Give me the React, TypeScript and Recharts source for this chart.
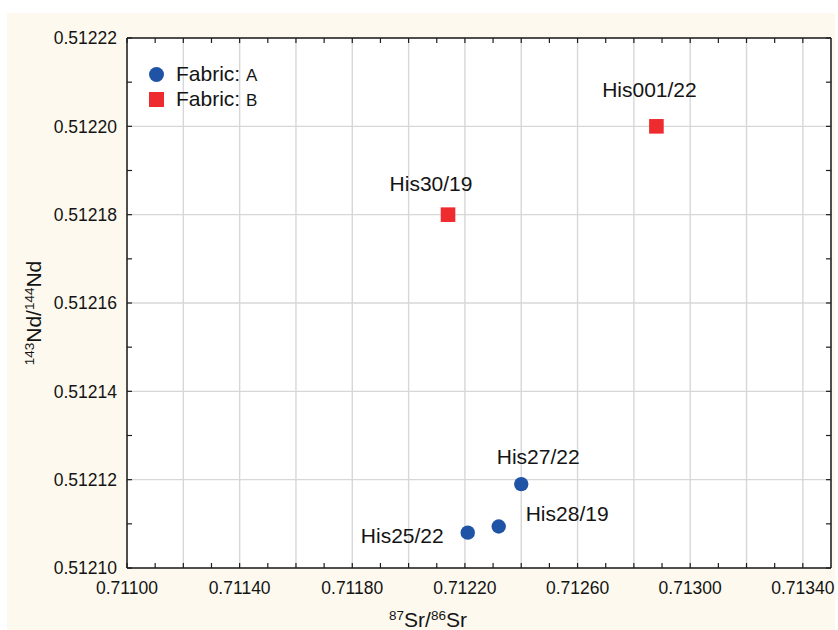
import React from 'react'
import { ScatterChart, Scatter, XAxis, YAxis, CartesianGrid } from 'recharts'

// Fabric A (blue circles)
const fabricANames = ['His27/22', 'His28/19', 'His25/22']
const fabricASr = [0.7124, 0.71232, 0.71221]
const fabricANd = [0.512119, 0.5121094, 0.512108]

// Fabric B (red squares)
const fabricBNames = ['His30/19', 'His001/22']
const fabricBSr = [0.71214, 0.71288]
const fabricBNd = [0.51218, 0.5122]

// axes
const xDomain = [0.711, 0.7135]
const yDomain = [0.5121, 0.51222]
const xTicks = [
  0.711, 0.7111, 0.7112, 0.7113, 0.7114, 0.7115, 0.7116, 0.7117, 0.7118, 0.7119,
  0.712, 0.7121, 0.7122, 0.7123, 0.7124, 0.7125, 0.7126, 0.7127, 0.7128, 0.7129,
  0.713, 0.7131, 0.7132, 0.7133, 0.7134,
]
const xGridTicks = [
  0.711, 0.7112, 0.7114, 0.7116, 0.7118, 0.712, 0.7122, 0.7124, 0.7126, 0.7128,
  0.713, 0.7132, 0.7134,
]
const xLabelTicks = [0.711, 0.7114, 0.7118, 0.7122, 0.7126, 0.713, 0.7134]
const yTicks = [
  0.5121, 0.51211, 0.51212, 0.51213, 0.51214, 0.51215, 0.51216, 0.51217,
  0.51218, 0.51219, 0.5122, 0.51221, 0.51222,
]
const yGridTicks = [0.5121, 0.51212, 0.51214, 0.51216, 0.51218, 0.5122, 0.51222]
const yLabelTicks = yGridTicks

const fabricA = fabricANames.map((name, i) => ({ name, sr: fabricASr[i], nd: fabricANd[i] }))
const fabricB = fabricBNames.map((name, i) => ({ name, sr: fabricBSr[i], nd: fabricBNd[i] }))

const labelPlacement: Record<string, { dx: number; dy: number; anchor: string }> = {
  'His001/22': { dx: -7, dy: -29, anchor: 'middle' },
  'His30/19': { dx: -17, dy: -24, anchor: 'middle' },
  'His27/22': { dx: 17, dy: -20, anchor: 'middle' },
  'His28/19': { dx: 27, dy: -5, anchor: 'start' },
  'His25/22': { dx: -24, dy: 10, anchor: 'end' },
}

const FONT = '"Liberation Sans", Arial, sans-serif'
const BLUE = '#1f53a5'
const RED = '#ee2b2f'
const AXIS = '#1e1e1e'
const TEXT = '#141414'

const has = (arr: number[], v: number) => arr.some((a) => Math.abs(a - v) < 1e-9)

const BottomTick = (props: any) => {
  const { x, y, payload } = props
  return (
    <g>
      <line x1={x} x2={x} y1={y} y2={y - 5} stroke={AXIS} strokeWidth={1.2} />
      {has(xLabelTicks, payload.value) && (
        <text x={x} y={y + 26} textAnchor="middle" fontSize={17.5} fill={TEXT} fontFamily={FONT}>
          {payload.value.toFixed(5)}
        </text>
      )}
    </g>
  )
}

const TopTick = (props: any) => {
  const { x, y } = props
  return <line x1={x} x2={x} y1={y} y2={y + 5} stroke={AXIS} strokeWidth={1.2} />
}

const LeftTick = (props: any) => {
  const { x, y, payload } = props
  return (
    <g>
      <line x1={x} x2={x + 5} y1={y} y2={y} stroke={AXIS} strokeWidth={1.2} />
      {has(yLabelTicks, payload.value) && (
        <text x={x - 10} y={y} dy="0.36em" textAnchor="end" fontSize={17.5} fill={TEXT} fontFamily={FONT}>
          {payload.value.toFixed(5)}
        </text>
      )}
    </g>
  )
}

const RightTick = (props: any) => {
  const { x, y } = props
  return <line x1={x} x2={x - 5} y1={y} y2={y} stroke={AXIS} strokeWidth={1.2} />
}

const PointLabel = ({ cx, cy, name }: { cx: number; cy: number; name: string }) => {
  const p = labelPlacement[name] || { dx: 0, dy: -20, anchor: 'middle' }
  return (
    <text x={cx + p.dx} y={cy + p.dy} textAnchor={p.anchor as any} fontSize={21} fill={TEXT} fontFamily={FONT}>
      {name}
    </text>
  )
}

const CircleShape = (props: any) => {
  const { cx, cy, payload } = props
  return (
    <g>
      <circle cx={cx} cy={cy} r={7.2} fill={BLUE} />
      <PointLabel cx={cx} cy={cy} name={payload.name} />
    </g>
  )
}

const SquareShape = (props: any) => {
  const { cx, cy, payload } = props
  return (
    <g>
      <rect x={cx - 7.3} y={cy - 7.3} width={14.6} height={14.6} fill={RED} />
      <PointLabel cx={cx} cy={cy} name={payload.name} />
    </g>
  )
}

const XTitle = () => (
  <text x={428} y={627} textAnchor="middle" fontSize={21} fill={TEXT} fontFamily={FONT}>
    <tspan baselineShift="super" fontSize={13.5}>87</tspan>
    <tspan baselineShift="0">Sr/</tspan>
    <tspan baselineShift="super" fontSize={13.5}>86</tspan>
    <tspan baselineShift="0">Sr</tspan>
  </text>
)

const YTitle = () => (
  <text
    x={0}
    y={0}
    transform="translate(41,313) rotate(-90)"
    textAnchor="middle"
    fontSize={21}
    fill={TEXT}
    fontFamily={FONT}
  >
    <tspan baselineShift="super" fontSize={13.5}>143</tspan>
    <tspan baselineShift="0">Nd/</tspan>
    <tspan baselineShift="super" fontSize={13.5}>144</tspan>
    <tspan baselineShift="0">Nd</tspan>
  </text>
)

export default function App() {
  return (
    <div style={{ position: 'absolute', left: 0, top: 0, width: 838, height: 630, background: '#fff', overflow: 'hidden' }}>
      <div style={{ position: 'absolute', left: 7, top: 13, width: 828, height: 617, background: '#fdf9ee' }} />
      <div style={{ position: 'absolute', left: 0, top: 0 }}>
        <ScatterChart width={838} height={630} margin={{ top: 0, right: 0, bottom: 0, left: 0 }}>
          <XAxis
            xAxisId="b"
            orientation="bottom"
            type="number"
            dataKey="sr"
            domain={xDomain}
            ticks={xTicks}
            interval={0}
            allowDataOverflow
            height={62}
            tickSize={0}
            tickMargin={0}
            tickLine={false}
            axisLine={{ stroke: AXIS, strokeWidth: 1.5 }}
            tick={<BottomTick />}
            label={<XTitle />}
          />
          <XAxis
            xAxisId="t"
            orientation="top"
            type="number"
            dataKey="sr"
            domain={xDomain}
            ticks={xTicks}
            interval={0}
            allowDataOverflow
            height={38}
            tickSize={0}
            tickMargin={0}
            tickLine={false}
            axisLine={{ stroke: AXIS, strokeWidth: 1.5 }}
            tick={<TopTick />}
          />
          <YAxis
            yAxisId="l"
            orientation="left"
            type="number"
            dataKey="nd"
            domain={yDomain}
            ticks={yTicks}
            interval={0}
            allowDataOverflow
            width={127}
            tickSize={0}
            tickMargin={0}
            tickLine={false}
            axisLine={{ stroke: AXIS, strokeWidth: 1.5 }}
            tick={<LeftTick />}
            label={<YTitle />}
          />
          <YAxis
            yAxisId="r"
            orientation="right"
            type="number"
            dataKey="nd"
            domain={yDomain}
            ticks={yTicks}
            interval={0}
            allowDataOverflow
            width={7}
            tickSize={0}
            tickMargin={0}
            tickLine={false}
            axisLine={{ stroke: AXIS, strokeWidth: 1.5 }}
            tick={<RightTick />}
          />
          {/* hidden zero-size axes that only carry the coarser grid spacing */}
          <XAxis xAxisId="gx" type="number" dataKey="sr" domain={xDomain} ticks={xGridTicks} allowDataOverflow hide height={0} />
          <YAxis yAxisId="gy" type="number" dataKey="nd" domain={yDomain} ticks={yGridTicks} allowDataOverflow hide width={0} />
          <CartesianGrid xAxisId="gx" yAxisId="gy" stroke="#d7d7d7" strokeWidth={1.4} fill="#ffffff" fillOpacity={1} />
          <Scatter name="Fabric: A" data={fabricA} xAxisId="b" yAxisId="l" shape={<CircleShape />} isAnimationActive={false} />
          <Scatter name="Fabric: B" data={fabricB} xAxisId="b" yAxisId="l" shape={<SquareShape />} isAnimationActive={false} />
        </ScatterChart>
      </div>
      <div style={{ position: 'absolute', left: 148, top: 62, fontFamily: FONT, color: TEXT, lineHeight: '25px' }}>
        <div style={{ display: 'flex', alignItems: 'center', height: 25 }}>
          <span style={{ display: 'inline-block', width: 15, height: 15, borderRadius: '50%', background: BLUE, marginLeft: 1 }} />
          <span style={{ marginLeft: 12, fontSize: 21 }}>
            Fabric: <span style={{ fontSize: 17 }}>A</span>
          </span>
        </div>
        <div style={{ display: 'flex', alignItems: 'center', height: 25 }}>
          <span style={{ display: 'inline-block', width: 15, height: 15, background: RED, marginLeft: 1 }} />
          <span style={{ marginLeft: 12, fontSize: 21 }}>
            Fabric: <span style={{ fontSize: 17 }}>B</span>
          </span>
        </div>
      </div>
    </div>
  )
}
